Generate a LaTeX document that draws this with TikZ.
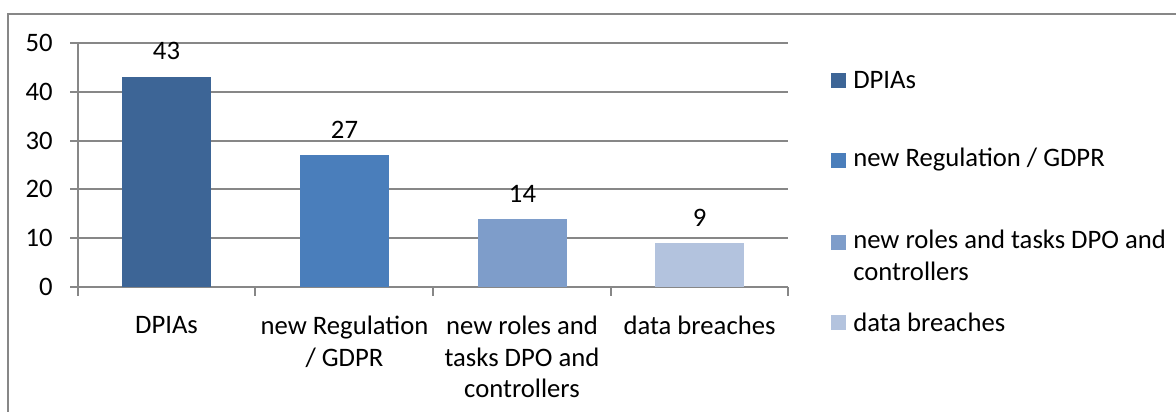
\documentclass[tikz,border=0pt]{standalone}
\usepackage{fontspec}
\setmainfont{Carlito}
\definecolor{barA}{HTML}{3D6596}
\definecolor{barB}{HTML}{4A7EBB}
\definecolor{barC}{HTML}{7E9DCA}
\definecolor{barD}{HTML}{B3C3DE}
\definecolor{axisgray}{HTML}{878787}
\begin{document}
\begin{tikzpicture}[x=0.75pt, y=-0.75pt,
gridline/.style={draw=axisgray, line width=1.1pt},
ticklabel/.style={anchor=east, inner sep=0pt, font=\fontsize{20}{23.25}\selectfont},
valuelabel/.style={inner sep=0pt, font=\fontsize{20}{23.25}\selectfont},
catlabel/.style={anchor=north, inner sep=0pt, align=center, font=\fontsize{20}{23.5}\selectfont},
legkey/.style={minimum size=11.25pt, inner sep=0pt},
legtext/.style={anchor=west, inner sep=0pt, align=left, font=\fontsize{20}{23.5}\selectfont}
]
\useasboundingbox (0,0) rectangle (1176,412);

% frame of the chart area
\draw[axisgray, line width=0.9pt] (1176,14) -- (8,14) -- (8,412);

% grid lines and axes
\draw[gridline] (70,43) -- (788,43);
\draw[gridline] (70,92) -- (788,92);
\draw[gridline] (70,141) -- (788,141);
\draw[gridline] (70,189) -- (788,189);
\draw[gridline] (70,238) -- (788,238);
\draw[gridline] (70,287) -- (788,287);
\draw[gridline] (78,43) -- (78,296);
\draw[gridline] (255,287) -- (255,296);
\draw[gridline] (433,287) -- (433,296);
\draw[gridline] (611,287) -- (611,296);
\draw[gridline] (788,287) -- (788,296);

\node[ticklabel] at (53,43) (y50) {50};
\node[ticklabel] at (53,92) (y40) {40};
\node[ticklabel] at (53,141) (y30) {30};
\node[ticklabel] at (53,189) (y20) {20};
\node[ticklabel] at (53,238) (y10) {10};
\node[ticklabel] at (53,287) (y0) {0};

% bars
\fill[barA] (122,287) rectangle (211,77);
\fill[barB] (300,287) rectangle (389,155);
\fill[barC] (478,287) rectangle (567,219);
\fill[barD] (655,287) rectangle (744,243);

\node[valuelabel] at (166.5,51) (v1) {43};
\node[valuelabel] at (344.5,130) (v2) {27};
\node[valuelabel] at (522.5,194) (v3) {14};
\node[valuelabel] at (699.5,218) (v4) {9};

\node[catlabel] at (166.5,316) (c1) {DPIAs};
\node[catlabel] at (344.5,316) (c2) {new Regulation\\/ GDPR};
\node[catlabel] at (522,316) (c3) {new roles and\\tasks DPO and\\controllers};
\node[catlabel] at (699.5,316) (c4) {data breaches};

% legend
\node[legkey, fill=barA] at (838.5,80) (k1) {};
\node[legkey, fill=barB] at (838.5,160) (k2) {};
\node[legkey, fill=barC] at (838.5,242) (k3) {};
\node[legkey, fill=barD] at (838.5,322) (k4) {};
\node[legtext] at (853,80) (l1) {DPIAs};
\node[legtext] at (853,160) (l2) {new Regulation / GDPR};
\node[legtext, anchor=north west] at (853,230) (l3) {new roles and tasks DPO and\\controllers};
\node[legtext] at (853,322) (l4) {data breaches};
\end{tikzpicture}
\end{document}
